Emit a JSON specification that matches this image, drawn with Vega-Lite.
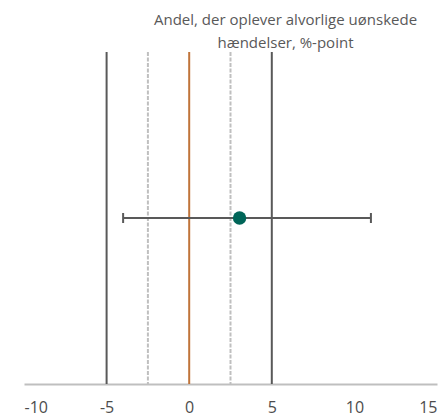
{
  "$schema": "https://vega.github.io/schema/vega-lite/v6.json",
  "width": 413,
  "height": 332,
  "autosize": "none",
  "padding": {"left": 24, "top": 52, "right": 11, "bottom": 32},
  "background": "white",
  "title": {
    "text": ["Andel, der oplever alvorlige uønskede", "hændelser, %-point"],
    "font": "Open Sans",
    "fontSize": 15,
    "fontWeight": "normal",
    "color": "#595959",
    "anchor": "middle",
    "dx": 55,
    "lineHeight": 23,
    "offset": 0
  },
  "config": {"view": {"stroke": null}},
  "datasets": {
    "refs": [
      {"x": -5, "kind": "outer"},
      {"x": 5, "kind": "outer"},
      {"x": -2.5, "kind": "inner"},
      {"x": 2.5, "kind": "inner"},
      {"x": 0, "kind": "zero"}
    ],
    "est": [
      {"estimate": 3.05, "lower": -4, "upper": 11}
    ]
  },
  "layer": [
    {
      "data": {"name": "refs"},
      "transform": [{"filter": "datum.kind === 'inner'"}],
      "mark": {"type": "rule", "color": "#bfbfbf", "strokeWidth": 2, "strokeDash": [4, 1.5]},
      "encoding": {
        "x": {
          "field": "x", "type": "quantitative",
          "scale": {"domain": [-10, 15], "nice": false, "zero": false},
          "axis": {
            "values": [-10, -5, 0, 5, 10, 15],
            "labelExpr": "'' + datum.value",
            "title": null,
            "grid": false,
            "ticks": false,
            "domainColor": "#bfbfbf",
            "domainWidth": 2,
            "labelFont": "Open Sans",
            "labelFontSize": 16,
            "labelColor": "#4d4d4d",
            "labelPadding": 15
          }
        }
      }
    },
    {
      "data": {"name": "refs"},
      "transform": [{"filter": "datum.kind === 'outer'"}],
      "mark": {"type": "rule", "color": "#595959", "strokeWidth": 2},
      "encoding": {"x": {"field": "x", "type": "quantitative"}}
    },
    {
      "data": {"name": "refs"},
      "transform": [{"filter": "datum.kind === 'zero'"}],
      "mark": {"type": "rule", "color": "#c0743a", "strokeWidth": 2},
      "encoding": {"x": {"field": "x", "type": "quantitative"}}
    },
    {
      "data": {"name": "est"},
      "mark": {"type": "rule", "color": "#595959", "strokeWidth": 2},
      "encoding": {
        "x": {"field": "lower", "type": "quantitative"},
        "x2": {"field": "upper"},
        "y": {"datum": 0.5, "type": "quantitative", "scale": {"domain": [0, 1]}, "axis": null}
      }
    },
    {
      "data": {"name": "est"},
      "mark": {"type": "tick", "orient": "vertical", "color": "#595959", "size": 10, "thickness": 2, "opacity": 1},
      "encoding": {
        "x": {"field": "lower", "type": "quantitative"},
        "y": {"datum": 0.5, "type": "quantitative"}
      }
    },
    {
      "data": {"name": "est"},
      "mark": {"type": "tick", "orient": "vertical", "color": "#595959", "size": 10, "thickness": 2, "opacity": 1},
      "encoding": {
        "x": {"field": "upper", "type": "quantitative"},
        "y": {"datum": 0.5, "type": "quantitative"}
      }
    },
    {
      "data": {"name": "est"},
      "mark": {"type": "circle", "color": "#006558", "size": 180, "opacity": 1},
      "encoding": {
        "x": {"field": "estimate", "type": "quantitative"},
        "y": {"datum": 0.5, "type": "quantitative"}
      }
    }
  ]
}
